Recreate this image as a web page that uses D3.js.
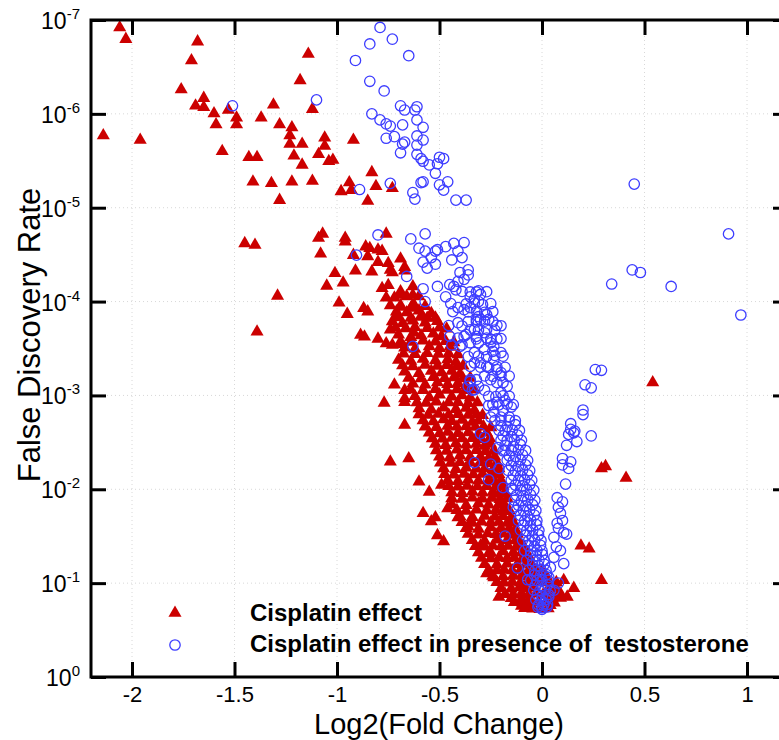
<!DOCTYPE html>
<html>
<head>
<meta charset="utf-8">
<script src="https://cdn.jsdelivr.net/npm/d3@7"></script>
<style>
  body { margin: 0; background: #fff; }
  svg { display: block; font-family: "Liberation Sans", Arial, Helvetica, sans-serif; }
</style>
</head>
<body>
<svg id="chart" width="779" height="740"></svg>
<script>
// Cisplatin effect (red triangles): [log2 fold change, FDR]
const cisplatin = [
  [-2.06,1.2e-7],[-2.03,1.6e-7],[-1.68,1.7e-7],[-1.71,2.7e-7],[-1.14,2.3e-7],[-1.18,4.4e-7],[-1.76,5.5e-7],
  [-1.65,6.8e-7],[-1.69,8.2e-7],[-1.65,8.5e-7],[-1.60,9.9e-7],[-1.53,9.1e-7],[-1.59,1.3e-6],[-1.49,1.1e-6],
  [-1.49,1.3e-6],[-1.31,8.0e-7],[-1.12,8.9e-7],[-1.37,1.1e-6],[-1.28,1.3e-6],[-1.22,1.4e-6],[-1.23,1.7e-6],
  [-1.23,2.1e-6],[-1.17,2.1e-6],[-2.14,1.7e-6],[-1.96,1.9e-6],[-1.56,2.5e-6],[-1.43,2.9e-6],[-1.39,2.9e-6],
  [-1.21,2.8e-6],[-1.17,3.5e-6],[-1.06,1.8e-6],[-1.06,2.2e-6],[-1.09,2.7e-6],[-1.04,3.2e-6],[-1.02,3.1e-6],
  [-1.41,5.3e-6],[-1.32,5.5e-6],[-1.22,5.3e-6],[-1.12,5.2e-6],[-1.28,8.3e-6],[-0.92,1.9e-6],[-0.83,4.2e-6],
  [-0.94,5.4e-6],[-0.81,5.9e-6],[-0.73,6.2e-6],[-0.98,6.7e-6],[-0.93,6.5e-6],[-0.85,8.5e-6],
  [-1.45,2.4e-5],[-1.40,2.5e-5],[-1.07,1.9e-5],[-1.09,2.1e-5],[-1.08,3.1e-5],[-1.05,6.8e-5],[-1.29,8.7e-5],
  [-1.39,2.1e-4],[-0.76,1.9e-5],[-0.96,2.1e-5],[-0.96,2.3e-5],[-0.86,2.6e-5],[-0.84,2.7e-5],[-0.80,2.8e-5],
  [-0.78,2.9e-5],[-0.92,3.2e-5],[-0.85,3.3e-5],[-0.80,3.8e-5],[-0.75,3.9e-5],[-0.69,3.5e-5],[-1.01,5.0e-5],
  [-0.91,4.7e-5],[-0.83,4.8e-5],[-0.74,4.6e-5],[-0.73,4.9e-5],[-0.67,4.3e-5],[-0.67,4.7e-5],[-0.97,6.3e-5],
  [-0.78,7.2e-5],[-0.75,6.7e-5],[-0.69,7.8e-5],[-0.63,6.9e-5],[-0.76,9.1e-5],[-0.72,9.1e-5],[-0.69,8.5e-5],
  [-0.66,8.8e-5],[-0.63,8.5e-5],[-0.60,8.8e-5],[-0.99,1.03e-4],[-0.95,1.36e-4],[-0.87,1.18e-4],[-0.85,1.28e-4],
  [-0.74,1.1e-4],[-0.71,1.43e-4],[-0.69,1.14e-4],[-0.64,1.17e-4],[-0.62,1.12e-4],[-0.59,1.43e-4],[-0.56,1.5e-4],
  [-0.74,2.0e-4],[-0.80,2.5e-4],[-0.76,2.8e-4],[-0.73,2.9e-4],[-0.69,2.85e-4],[-0.64,2.4e-4],[-0.625,2.15e-4],
  [-0.885,2.27e-4],[-0.866,2.37e-4],[-0.72,7.7e-4],[-0.67,8.8e-4],[-0.67,1.08e-3],[-0.77,1.2e-3],[-0.67,1.18e-3],
  [-0.67,2.07e-3],[-0.74,5.1e-3],[-0.65,4.7e-3],[-0.60,8.3e-3],[-0.55,1.07e-2],[-0.49,9.0e-3],[-0.58,1.8e-2],
  [-0.52,2.0e-2],[-0.54,2.2e-2],[-0.46,1.6e-2],[-0.41,2.0e-2],[-0.36,2.5e-2],[-0.51,3.1e-2],[-0.48,3.6e-2],
  [-0.30,4.0e-2],[-0.26,4.8e-2],[-0.21,0.14],[-0.27,7.9e-2],[-0.235,8.7e-2],
  [0.29,6.0e-3],[0.31,5.7e-3],[0.19,4.0e-2],[0.23,4.3e-2],[0.29,9.3e-2],[0.54,7.3e-4],[0.41,7.6e-3],
  [0.155,0.113],[0.106,9.3e-2],[0.09,0.129],[0.123,0.14],
  // dense band
  [-0.71,1.28e-4],[-0.66,1.31e-4],[-0.60,1.25e-4],[-0.54,1.33e-4],
  [-0.73,1.63e-4],[-0.68,1.7e-4],[-0.63,1.6e-4],[-0.57,1.68e-4],[-0.51,1.62e-4],
  [-0.70,2.25e-4],[-0.59,2.3e-4],[-0.53,2.2e-4],[-0.49,2.35e-4],
  [-0.67,3.1e-4],[-0.62,3.2e-4],[-0.55,3.0e-4],[-0.50,3.15e-4],[-0.45,3.05e-4],
  [-0.70,4.2e-4],[-0.64,4.3e-4],[-0.58,4.1e-4],[-0.52,4.25e-4],[-0.46,4.15e-4],[-0.42,4.4e-4],
  [-0.67,5.6e-4],[-0.60,5.8e-4],[-0.54,5.5e-4],[-0.49,5.7e-4],[-0.44,5.5e-4],[-0.40,5.9e-4],
  [-0.63,7.5e-4],[-0.57,7.7e-4],[-0.51,7.3e-4],[-0.46,7.6e-4],[-0.41,7.4e-4],[-0.37,7.8e-4],
  [-0.62,1.02e-3],[-0.55,1.05e-3],[-0.50,9.8e-4],[-0.44,1.03e-3],[-0.39,1.0e-3],[-0.35,1.06e-3],
  [-0.60,1.38e-3],[-0.54,1.42e-3],[-0.48,1.35e-3],[-0.42,1.4e-3],[-0.37,1.36e-3],[-0.33,1.44e-3],
  [-0.58,1.85e-3],[-0.53,1.9e-3],[-0.48,1.8e-3],[-0.44,1.88e-3],[-0.39,1.83e-3],[-0.34,1.92e-3],[-0.31,1.86e-3],
  [-0.55,2.5e-3],[-0.50,2.55e-3],[-0.46,2.45e-3],[-0.41,2.52e-3],[-0.36,2.48e-3],[-0.31,2.58e-3],[-0.27,2.5e-3],
  [-0.52,3.3e-3],[-0.47,3.4e-3],[-0.42,3.25e-3],[-0.37,3.35e-3],[-0.32,3.3e-3],[-0.28,3.45e-3],[-0.25,3.3e-3],
  [-0.50,4.5e-3],[-0.45,4.6e-3],[-0.40,4.4e-3],[-0.35,4.55e-3],[-0.30,4.5e-3],[-0.26,4.65e-3],[-0.23,4.5e-3],
  [-0.48,6.0e-3],[-0.42,6.1e-3],[-0.37,5.9e-3],[-0.32,6.05e-3],[-0.28,6.0e-3],[-0.24,6.2e-3],[-0.21,6.0e-3],
  [-0.46,8.0e-3],[-0.41,8.2e-3],[-0.36,7.9e-3],[-0.31,8.1e-3],[-0.26,8.0e-3],[-0.23,8.3e-3],[-0.20,8.0e-3],
  [-0.44,1.08e-2],[-0.39,1.1e-2],[-0.34,1.06e-2],[-0.29,1.09e-2],[-0.24,1.07e-2],[-0.21,1.12e-2],[-0.18,1.08e-2],
  [-0.44,1.45e-2],[-0.37,1.48e-2],[-0.31,1.42e-2],[-0.26,1.46e-2],[-0.21,1.44e-2],[-0.18,1.5e-2],
  [-0.40,1.95e-2],[-0.34,1.98e-2],[-0.28,1.92e-2],[-0.23,1.96e-2],[-0.19,1.94e-2],[-0.15,2.0e-2],
  [-0.37,2.6e-2],[-0.31,2.65e-2],[-0.25,2.55e-2],[-0.20,2.6e-2],[-0.16,2.62e-2],[-0.13,2.7e-2],
  [-0.34,3.5e-2],[-0.28,3.55e-2],[-0.22,3.45e-2],[-0.17,3.5e-2],[-0.13,3.52e-2],[-0.11,3.6e-2],
  [-0.31,4.7e-2],[-0.25,4.75e-2],[-0.19,4.6e-2],[-0.14,4.7e-2],[-0.10,4.72e-2],[-0.08,4.8e-2],
  [-0.28,6.3e-2],[-0.22,6.35e-2],[-0.17,6.2e-2],[-0.12,6.3e-2],[-0.08,6.32e-2],[-0.05,6.4e-2],
  [-0.24,8.4e-2],[-0.19,8.5e-2],[-0.14,8.3e-2],[-0.10,8.4e-2],[-0.07,8.45e-2],[-0.03,8.5e-2],[0.02,8.4e-2],
  [-0.20,0.113],[-0.15,0.115],[-0.11,0.111],[-0.08,0.114],[-0.04,0.112],[0.03,0.116],[0.07,0.113],
  [-0.15,0.145],[-0.10,0.148],[-0.06,0.143],[0.05,0.146],[0.09,0.144],
  [-0.10,0.175],[-0.06,0.178],[0.04,0.172],[-0.01,0.19],
  // dense band, in-between rows
  [-0.69,1.1e-4],[-0.63,1.08e-4],[-0.57,1.12e-4],
  [-0.70,1.48e-4],[-0.64,1.5e-4],[-0.58,1.46e-4],[-0.52,1.49e-4],
  [-0.715,1.9e-4],[-0.665,1.93e-4],[-0.62,1.88e-4],[-0.56,1.92e-4],[-0.50,1.9e-4],[-0.465,1.95e-4],
  [-0.69,2.67e-4],[-0.64,2.7e-4],[-0.58,2.62e-4],[-0.52,2.68e-4],[-0.47,2.65e-4],[-0.43,2.72e-4],
  [-0.675,3.6e-4],[-0.62,3.65e-4],[-0.56,3.55e-4],[-0.505,3.62e-4],[-0.455,3.58e-4],[-0.41,3.66e-4],
  [-0.68,4.8e-4],[-0.63,4.9e-4],[-0.57,4.75e-4],[-0.51,4.85e-4],[-0.465,4.78e-4],[-0.415,4.9e-4],[-0.385,4.82e-4],
  [-0.65,6.5e-4],[-0.59,6.6e-4],[-0.53,6.4e-4],[-0.475,6.55e-4],[-0.43,6.45e-4],[-0.385,6.6e-4],[-0.35,6.5e-4],
  [-0.64,8.7e-4],[-0.58,8.8e-4],[-0.52,8.6e-4],[-0.465,8.75e-4],[-0.415,8.65e-4],[-0.37,8.8e-4],[-0.33,8.7e-4],
  [-0.61,1.19e-3],[-0.565,1.2e-3],[-0.515,1.17e-3],[-0.455,1.19e-3],[-0.41,1.18e-3],[-0.36,1.21e-3],[-0.315,1.19e-3],
  [-0.60,1.6e-3],[-0.555,1.62e-3],[-0.505,1.58e-3],[-0.455,1.61e-3],[-0.41,1.59e-3],[-0.36,1.62e-3],[-0.32,1.6e-3],[-0.29,1.63e-3],
  [-0.57,2.15e-3],[-0.515,2.18e-3],[-0.46,2.12e-3],[-0.415,2.16e-3],[-0.37,2.13e-3],[-0.325,2.17e-3],[-0.285,2.15e-3],[-0.25,2.19e-3],
  [-0.535,2.87e-3],[-0.485,2.9e-3],[-0.44,2.84e-3],[-0.39,2.88e-3],[-0.34,2.86e-3],[-0.295,2.92e-3],[-0.255,2.87e-3],
  [-0.515,3.85e-3],[-0.465,3.9e-3],[-0.415,3.8e-3],[-0.37,3.87e-3],[-0.32,3.83e-3],[-0.275,3.92e-3],[-0.235,3.85e-3],
  [-0.495,5.2e-3],[-0.445,5.25e-3],[-0.40,5.15e-3],[-0.35,5.22e-3],[-0.30,5.18e-3],[-0.26,5.27e-3],[-0.22,5.2e-3],
  [-0.475,6.9e-3],[-0.43,7.0e-3],[-0.38,6.85e-3],[-0.335,6.95e-3],[-0.29,6.88e-3],[-0.245,7.02e-3],[-0.21,6.9e-3],
  [-0.455,9.3e-3],[-0.41,9.4e-3],[-0.365,9.2e-3],[-0.315,9.35e-3],[-0.27,9.25e-3],[-0.225,9.45e-3],[-0.19,9.3e-3],
  [-0.44,1.25e-2],[-0.39,1.27e-2],[-0.34,1.23e-2],[-0.29,1.26e-2],[-0.245,1.24e-2],[-0.205,1.28e-2],[-0.17,1.25e-2],
  [-0.415,1.67e-2],[-0.37,1.7e-2],[-0.32,1.65e-2],[-0.27,1.68e-2],[-0.225,1.66e-2],[-0.19,1.71e-2],[-0.16,1.67e-2],
  [-0.39,2.25e-2],[-0.34,2.28e-2],[-0.295,2.22e-2],[-0.25,2.26e-2],[-0.21,2.23e-2],[-0.17,2.29e-2],[-0.14,2.25e-2],
  [-0.36,3.0e-2],[-0.31,3.05e-2],[-0.265,2.96e-2],[-0.225,3.02e-2],[-0.19,2.98e-2],[-0.155,3.06e-2],[-0.12,3.0e-2],
  [-0.325,4.05e-2],[-0.28,4.1e-2],[-0.24,4.0e-2],[-0.20,4.07e-2],[-0.165,4.02e-2],[-0.125,4.12e-2],[-0.09,4.05e-2],
  [-0.295,5.4e-2],[-0.25,5.45e-2],[-0.21,5.35e-2],[-0.17,5.42e-2],[-0.135,5.37e-2],[-0.095,5.48e-2],[-0.06,5.4e-2],
  [-0.26,7.3e-2],[-0.22,7.35e-2],[-0.185,7.2e-2],[-0.145,7.32e-2],[-0.105,7.25e-2],[-0.065,7.38e-2],[-0.03,7.3e-2],[0.0,7.34e-2],
  [-0.22,9.8e-2],[-0.185,9.9e-2],[-0.145,9.7e-2],[-0.105,9.85e-2],[-0.07,9.75e-2],[-0.035,9.9e-2],[0.0,9.8e-2],[0.035,9.85e-2],[0.07,9.8e-2],
  [-0.18,0.131],[-0.14,0.133],[-0.10,0.129],[-0.065,0.132],[-0.03,0.13],[0.005,0.133],[0.045,0.131],[0.08,0.132],
  [-0.135,0.16],[-0.095,0.162],[-0.055,0.158],[-0.015,0.161],[0.02,0.159],[0.06,0.162],
  [-0.085,0.185],[-0.045,0.187],[-0.005,0.183],[0.03,0.186]
];

// Cisplatin effect in presence of testosterone (blue circles)
const cisplatinTesto = [
  [-0.79,1.2e-7],[-0.84,1.8e-7],[-0.73,1.6e-7],[-0.65,2.4e-7],[-0.91,2.7e-7],[-0.84,4.5e-7],[-0.77,5.7e-7],
  [-1.51,8.2e-7],[-1.10,7.1e-7],[-0.83,1.0e-6],[-0.79,1.16e-6],[-0.76,1.28e-6],[-0.74,1.35e-6],[-0.69,8.2e-7],
  [-0.67,9.1e-7],[-0.62,9.1e-7],[-0.61,8.4e-7],[-0.61,1.16e-6],[-0.68,1.31e-6],[-0.58,1.39e-6],[-0.76,1.82e-6],
  [-0.72,1.75e-6],[-0.68,2.1e-6],[-0.67,2.0e-6],[-0.69,2.6e-6],[-0.61,1.72e-6],[-0.58,1.9e-6],[-0.61,2.15e-6],
  [-0.61,2.7e-6],[-0.59,3.0e-6],[-0.58,3.2e-6],[-0.55,3.5e-6],[-0.50,2.9e-6],[-0.48,3.0e-6],[-0.51,3.4e-6],
  [-0.52,4.3e-6],[-0.59,5.4e-6],[-0.58,5.3e-6],[-0.46,5.3e-6],[-0.50,5.7e-6],[-0.48,6.5e-6],[-0.74,5.5e-6],
  [-0.89,6.4e-6],[-0.63,6.9e-6],[-0.62,8.1e-6],[-0.42,8.3e-6],[-0.37,8.3e-6],
  [0.45,5.6e-6],[0.91,1.9e-5],[0.44,4.6e-5],[0.48,4.9e-5],[0.34,6.5e-5],[0.63,6.9e-5],[0.97,1.39e-4],
  [0.26,5.3e-4],[0.29,5.4e-4],[0.21,7.7e-4],[0.24,8.3e-4],[0.20,1.43e-3],[0.20,1.6e-3],[0.14,2.0e-3],
  [0.14,2.3e-3],[0.16,2.4e-3],[0.13,2.6e-3],[0.155,2.5e-3],[0.24,2.7e-3],[0.17,3.1e-3],[0.12,3.4e-3],
  [0.10,4.7e-3],[0.14,5.1e-3],[0.10,5.5e-3],[0.13,6.0e-3],[0.115,8.8e-3],
  [0.074,1.23e-2],[0.10,1.36e-2],[0.08,1.55e-2],[0.09,1.8e-2],[0.10,2.15e-2],[0.074,2.3e-2],[0.08,2.6e-2],
  [0.106,2.9e-2],[0.12,3.0e-2],[0.058,3.25e-2],[0.07,4.1e-2],[0.09,4.5e-2],[0.106,6.2e-2],[0.058,5.3e-2],
  [0.041,6.8e-2],[0.033,8.7e-2],[0.08,0.1],[0.058,0.119],[0.033,0.14],[0.01,0.165],
  [-0.80,1.95e-5],[-0.905,3.2e-5],[-0.66,5.4e-5],[-0.58,7.3e-5],[-0.57,1.0e-4],[-0.63,3.0e-4],
  [-0.64,2.15e-5],[-0.57,1.9e-5],[-0.60,2.7e-5],[-0.57,2.9e-5],[-0.54,3.4e-5],[-0.51,2.8e-5],[-0.47,2.6e-5],
  [-0.43,2.4e-5],[-0.38,2.35e-5],[-0.41,2.9e-5],[-0.39,3.4e-5],[-0.44,3.6e-5],[-0.58,3.8e-5],[-0.56,4.4e-5],
  [-0.52,4.0e-5],[-0.52,2.9e-5],[-0.40,4.9e-5],[-0.36,4.6e-5],[-0.36,5.2e-5],[-0.38,5.8e-5],[-0.41,6.1e-5],
  [-0.51,6.9e-5],[-0.47,8.9e-5],[-0.45,6.6e-5],[-0.43,6.9e-5],[-0.42,7.5e-5],[-0.35,8.9e-5],[-0.32,7.9e-5],
  [-0.30,8.4e-5],[-0.31,1.0e-4],[-0.33,9.5e-5],[-0.41,1.16e-4],[-0.38,1.22e-4],[-0.41,1.68e-4],[-0.35,1.16e-4],
  [-0.29,1.08e-4],[-0.28,1.3e-4],[-0.31,1.45e-4],[-0.27,1.38e-4],[-0.26,1.55e-4],[-0.30,1.55e-4],[-0.32,1.55e-4],
  [-0.45,2.35e-4],[-0.41,2.45e-4],[-0.37,2.25e-4],[-0.44,2.9e-4],[-0.40,3.0e-4],[-0.35,2.75e-4],[-0.33,3.5e-4],
  [-0.36,3.85e-4],[-0.33,4.5e-4],[-0.35,6.8e-4],[-0.33,8.7e-4],[-0.36,8.0e-4],[-0.32,6.8e-4],
  [-0.38,2.35e-4],[-0.39,2.9e-4],[-0.33,2.0e-4],[-0.32,2.35e-4],[-0.31,2.75e-4],[-0.28,2.15e-4],[-0.27,2.45e-4],
  [-0.25,2.75e-4],[-0.235,3.0e-4],[-0.22,2.5e-4],[-0.20,3.5e-4],[-0.24,3.4e-4],[-0.28,3.25e-4],[-0.35,4.9e-4],
  [-0.30,4.5e-4],[-0.27,4.9e-4],[-0.235,4.2e-4],[-0.22,5.3e-4],[-0.20,5.7e-4],[-0.25,6.8e-4],[-0.22,7.3e-4],
  [-0.19,7.3e-4],[-0.17,8.0e-4],[-0.20,9.3e-4],[-0.18,1.13e-3],[-0.22,1.18e-3],[-0.35,7.1e-4],[-0.34,8.8e-4],
  [-0.31,8.0e-4],[-0.28,8.8e-4],[-0.15,1.33e-3],[-0.19,1.45e-3],[-0.235,1.5e-3],[-0.26,1.28e-3],[-0.25,1.7e-3],
  [-0.20,1.7e-3],[-0.16,1.7e-3],
  [-0.30,2.55e-3],[-0.28,2.8e-3],[-0.33,5.2e-3],[-0.25,5.4e-3],[-0.21,6.0e-3],[-0.26,7.9e-3],[-0.19,9.6e-3],
  [-0.15,9.8e-3],[-0.14,1.55e-2],[-0.18,3.15e-2],[-0.12,6.9e-2],[-0.07,9.2e-2],[-0.215,3.6e-3],[-0.19,3.9e-3],
  // dense spine
  [-0.20,2.1e-3],[-0.17,2.15e-3],[-0.13,2.05e-3],
  [-0.19,2.7e-3],[-0.15,2.75e-3],[-0.12,2.65e-3],
  [-0.18,3.4e-3],[-0.14,3.5e-3],[-0.105,3.35e-3],
  [-0.16,4.4e-3],[-0.13,4.5e-3],[-0.095,4.3e-3],
  [-0.15,5.6e-3],[-0.115,5.7e-3],[-0.08,5.5e-3],
  [-0.14,7.1e-3],[-0.105,7.2e-3],[-0.07,7.0e-3],
  [-0.13,9.0e-3],[-0.095,9.2e-3],[-0.06,8.9e-3],
  [-0.125,1.16e-2],[-0.09,1.18e-2],[-0.056,1.14e-2],
  [-0.115,1.48e-2],[-0.08,1.5e-2],[-0.046,1.46e-2],
  [-0.105,1.9e-2],[-0.07,1.93e-2],[-0.037,1.88e-2],
  [-0.09,2.4e-2],[-0.056,2.45e-2],[-0.027,2.38e-2],
  [-0.08,3.1e-2],[-0.046,3.15e-2],[-0.017,3.05e-2],
  [-0.066,4.0e-2],[-0.037,4.05e-2],[-0.007,3.95e-2],
  [-0.056,5.0e-2],[-0.027,5.1e-2],[0.002,4.95e-2],
  [-0.046,6.4e-2],[-0.017,6.5e-2],[0.012,6.3e-2],
  [-0.037,8.2e-2],[-0.007,8.3e-2],[0.022,8.1e-2],
  [-0.032,0.105],[-0.002,0.107],[0.027,0.104],
  [-0.022,0.134],[0.002,0.136],[0.032,0.132],
  [-0.017,0.17],[0.007,0.172],[0.027,0.168],[0.0,0.19],
  // dense spine, in-between rows
  [-0.39,7.8e-5],[-0.35,7.9e-5],[-0.31,7.7e-5],[-0.27,7.85e-5],
  [-0.445,1.05e-4],[-0.37,1.06e-4],[-0.33,1.04e-4],[-0.25,1.05e-4],
  [-0.435,1.28e-4],[-0.36,1.29e-4],[-0.32,1.27e-4],[-0.24,1.28e-4],
  [-0.36,1.63e-4],[-0.32,1.65e-4],[-0.28,1.62e-4],[-0.24,1.64e-4],
  [-0.455,1.8e-4],[-0.39,1.82e-4],[-0.22,1.79e-4],[-0.20,1.81e-4],
  [-0.35,2.0e-4],[-0.31,2.02e-4],[-0.27,1.98e-4],[-0.23,2.01e-4],
  [-0.32,2.5e-4],[-0.25,2.52e-4],[-0.20,2.48e-4],
  [-0.31,3.8e-4],[-0.27,3.85e-4],[-0.23,3.75e-4],[-0.19,3.82e-4],
  [-0.30,5.0e-4],[-0.26,5.05e-4],[-0.22,4.95e-4],[-0.18,5.02e-4],
  [-0.28,6.2e-4],[-0.24,6.25e-4],[-0.20,6.15e-4],[-0.16,6.22e-4],
  [-0.26,1.02e-3],[-0.225,1.03e-3],[-0.19,1.01e-3],[-0.16,1.02e-3],
  [-0.24,1.25e-3],[-0.21,1.26e-3],[-0.17,1.24e-3],[-0.14,1.25e-3],
  [-0.23,1.85e-3],[-0.20,1.87e-3],[-0.16,1.84e-3],[-0.13,1.86e-3],
  [-0.21,2.35e-3],[-0.18,2.37e-3],[-0.145,2.33e-3],[-0.11,2.36e-3],
  [-0.20,3.0e-3],[-0.17,3.02e-3],[-0.135,2.98e-3],[-0.10,3.01e-3],
  [-0.18,3.85e-3],[-0.15,3.88e-3],[-0.115,3.82e-3],[-0.08,3.86e-3],
  [-0.17,4.9e-3],[-0.14,4.95e-3],[-0.105,4.86e-3],[-0.07,4.92e-3],
  [-0.165,6.3e-3],[-0.13,6.35e-3],[-0.095,6.25e-3],[-0.06,6.32e-3],
  [-0.15,8.0e-3],[-0.115,8.05e-3],[-0.085,7.95e-3],[-0.05,8.02e-3],
  [-0.14,1.02e-2],[-0.105,1.03e-2],[-0.075,1.01e-2],[-0.04,1.02e-2],
  [-0.135,1.31e-2],[-0.10,1.32e-2],[-0.07,1.3e-2],[-0.035,1.31e-2],
  [-0.125,1.67e-2],[-0.09,1.69e-2],[-0.06,1.66e-2],[-0.03,1.68e-2],
  [-0.115,2.15e-2],[-0.085,2.17e-2],[-0.055,2.13e-2],[-0.025,2.16e-2],
  [-0.105,2.73e-2],[-0.075,2.76e-2],[-0.045,2.71e-2],[-0.015,2.74e-2],
  [-0.095,3.5e-2],[-0.065,3.53e-2],[-0.035,3.48e-2],[-0.005,3.51e-2],
  [-0.085,4.5e-2],[-0.055,4.54e-2],[-0.025,4.47e-2],[0.0,4.52e-2],
  [-0.075,5.7e-2],[-0.045,5.75e-2],[-0.015,5.67e-2],[0.01,5.72e-2],
  [-0.065,7.3e-2],[-0.035,7.35e-2],[-0.005,7.26e-2],[0.02,7.32e-2],
  [-0.055,9.3e-2],[-0.025,9.36e-2],[0.0,9.26e-2],[0.03,9.33e-2],
  [-0.04,0.119],[-0.01,0.12],[0.015,0.118],[0.04,0.121],
  [-0.03,0.15],[-0.005,0.152],[0.02,0.149],
  [-0.02,0.18],[0.0,0.182],[0.025,0.179]
];

const xTicks = [-2, -1.5, -1, -0.5, 0, 0.5, 1];
const yExponents = [-7, -6, -5, -4, -3, -2, -1, 0];
const legendLabels = ["Cisplatin effect", "Cisplatin effect in presence of  testosterone"];
const xTitle = "Log2(Fold Change)";
const yTitle = "False Discovery Rate";

const svg = d3.select("#chart");
const plotLeft = 91, plotRight = 788, plotTop = 20, plotBottom = 677;

const x = d3.scaleLinear().domain([-2.2, 1.2]).range([plotLeft, plotRight]);
const y = d3.scaleLog().domain([1e-7, 1]).range([plotTop, plotBottom]);

const red = "#cc0000";
const blue = "#3d3dff";

// dotted grid
const grid = svg.append("g").attr("stroke", "#d8d8d8").attr("stroke-dasharray", "1,3");
xTicks.forEach(t => {
  grid.append("line").attr("x1", x(t)).attr("x2", x(t)).attr("y1", plotTop).attr("y2", plotBottom);
});
yExponents.forEach(e => {
  grid.append("line").attr("x1", plotLeft).attr("x2", plotRight)
    .attr("y1", y(Math.pow(10, e))).attr("y2", y(Math.pow(10, e)));
});

// points
const plot = svg.append("g");
const tri = d3.symbol().type(d3.symbolTriangle).size(74);
plot.selectAll(".tri")
  .data(cisplatin)
  .join("path")
  .attr("class", "tri")
  .attr("d", tri)
  .attr("transform", d => `translate(${x(d[0])},${y(d[1])})`)
  .attr("fill", red);

plot.selectAll(".circ")
  .data(cisplatinTesto)
  .join("circle")
  .attr("class", "circ")
  .attr("cx", d => x(d[0]))
  .attr("cy", d => y(d[1]))
  .attr("r", 5.2)
  .attr("fill", "none")
  .attr("stroke", blue)
  .attr("stroke-width", 1.3);

// frame
svg.append("rect")
  .attr("x", plotLeft).attr("y", plotTop)
  .attr("width", plotRight - plotLeft).attr("height", plotBottom - plotTop)
  .attr("fill", "none").attr("stroke", "#000").attr("stroke-width", 3);

// axes with inner ticks, mirrored
const tickLen = 15;
const yVals = yExponents.map(e => Math.pow(10, e));
const axB = svg.append("g").attr("transform", `translate(0,${plotBottom})`)
  .call(d3.axisBottom(x).tickValues(xTicks).tickSizeInner(-tickLen).tickSizeOuter(0).tickPadding(9));
const axT = svg.append("g").attr("transform", `translate(0,${plotTop})`)
  .call(d3.axisTop(x).tickValues(xTicks).tickSizeInner(-tickLen).tickSizeOuter(0).tickFormat(""));
const axL = svg.append("g").attr("transform", `translate(${plotLeft},0)`)
  .call(d3.axisLeft(y).tickValues(yVals).tickSizeInner(-tickLen).tickSizeOuter(0).tickFormat(""));
const axR = svg.append("g").attr("transform", `translate(${plotRight},0)`)
  .call(d3.axisRight(y).tickValues(yVals).tickSizeInner(-tickLen).tickSizeOuter(0).tickFormat(""));

[axB, axT, axL, axR].forEach(g => {
  g.select(".domain").remove();
  g.selectAll(".tick line").attr("stroke", "#000").attr("stroke-width", 3);
});
axB.selectAll(".tick text")
  .attr("font-family", "Liberation Sans, Arial, sans-serif")
  .attr("font-size", 22)
  .attr("fill", "#000")
  .attr("dy", "0.71em")
  .text(d => d < 0 ? "-" + Math.abs(d) : String(d));

// y tick labels 10^n
const yLab = svg.append("g");
yExponents.forEach(e => {
  const t = yLab.append("text")
    .attr("x", 80)
    .attr("y", y(Math.pow(10, e)) + 9)
    .attr("text-anchor", "end")
    .attr("font-size", 23)
    .attr("fill", "#000");
  t.append("tspan").text("10");
  t.append("tspan").attr("dy", -10).attr("font-size", 15).text(e);
});

// titles
svg.append("text")
  .attr("x", 439).attr("y", 734)
  .attr("text-anchor", "middle")
  .attr("font-size", 29)
  .text(xTitle);
svg.append("text")
  .attr("transform", "translate(40,335) rotate(-90)")
  .attr("text-anchor", "middle")
  .attr("font-size", 31)
  .text(yTitle);

// legend
const leg = svg.append("g");
leg.append("path").attr("d", tri).attr("transform", "translate(175,613)").attr("fill", red);
leg.append("circle").attr("cx", 175).attr("cy", 645).attr("r", 5.2)
  .attr("fill", "none").attr("stroke", blue).attr("stroke-width", 1.3);
legendLabels.forEach((s, i) => {
  leg.append("text")
    .attr("x", 250).attr("y", 621 + i * 31)
    .attr("font-size", 24)
    .attr("font-weight", "bold")
    .style("white-space", "pre")
    .text(s);
});
</script>
</body>
</html>
